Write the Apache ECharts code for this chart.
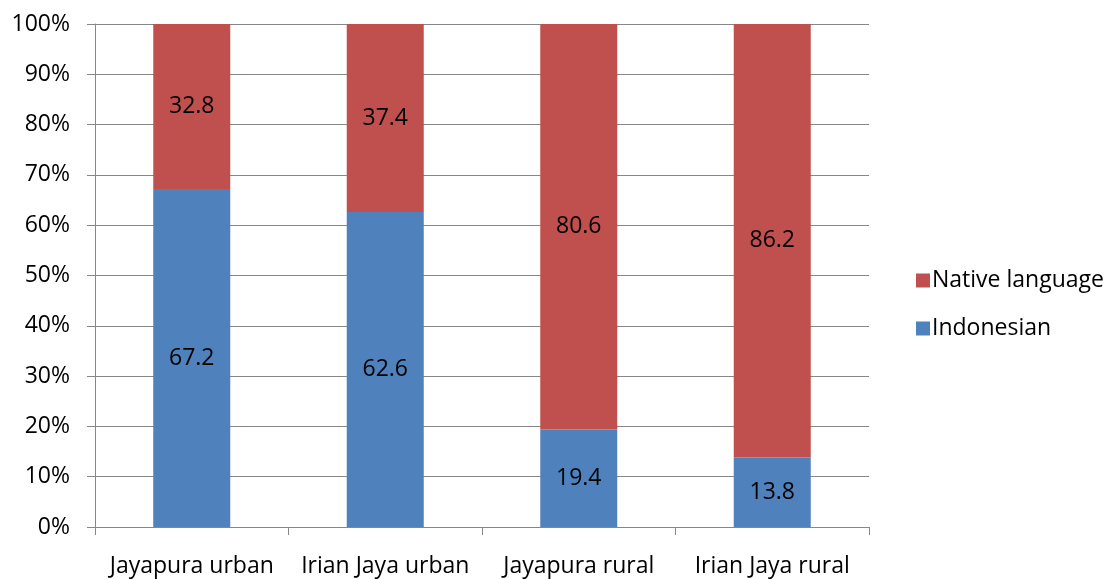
<!DOCTYPE html>
<html>
<head>
<meta charset="utf-8">
<script src="https://cdn.jsdelivr.net/npm/echarts@6/dist/echarts.min.js"></script>
<style>
html,body{margin:0;padding:0;background:#fff;}
#chart{width:1108px;height:579px;}
</style>
</head>
<body>
<div id="chart"></div>
<script>
const categories = ['Jayapura urban', 'Irian Jaya urban', 'Jayapura rural', 'Irian Jaya rural'];
const indonesian = [67.2, 62.6, 19.4, 13.8];
const nativeLanguage = [32.8, 37.4, 80.6, 86.2];
const yTicks = [0, 10, 20, 30, 40, 50, 60, 70, 80, 90, 100];

const FONT = '"Open Sans", Lato, sans-serif';
const FS = 23;
const chart = echarts.init(document.getElementById('chart'));
chart.setOption({
  animation: false,
  backgroundColor: '#fff',
  textStyle: { fontFamily: FONT },
  grid: { left: 95, right: 239, top: 24, bottom: 52, containLabel: false, outerBoundsMode: 'none' },
  legend: {
    orient: 'vertical',
    left: 911,
    top: 264,
    itemWidth: 14,
    itemHeight: 14,
    itemGap: 25,
    icon: 'rect',
    data: ['Native language', 'Indonesian'],
    textStyle: { fontFamily: FONT, fontSize: FS, color: '#000', padding: [0, 0, 0, -3] }
  },
  xAxis: {
    type: 'category',
    data: categories,
    axisLine: { show: true, lineStyle: { color: '#878787', width: 1 } },
    axisTick: { show: true, length: 8, alignWithLabel: false, lineStyle: { color: '#878787' } },
    axisLabel: { fontFamily: FONT, fontSize: FS, color: '#000', margin: 28, interval: 0 },
    splitLine: { show: false }
  },
  yAxis: {
    type: 'value',
    min: yTicks[0],
    max: yTicks[yTicks.length - 1],
    interval: 10,
    axisLine: { show: true, lineStyle: { color: '#878787', width: 1 } },
    axisTick: { show: true, length: 8, lineStyle: { color: '#878787' } },
    axisLabel: { fontFamily: FONT, fontSize: FS, color: '#000', margin: 25, formatter: '{value}%' },
    splitLine: { show: true, lineStyle: { color: '#878787', width: 1 } }
  },
  series: [
    {
      name: 'Indonesian',
      type: 'bar',
      stack: 'total',
      barWidth: 77,
      data: indonesian,
      itemStyle: { color: '#4F81BD' },
      label: { show: true, position: 'inside', color: '#000', fontFamily: FONT, fontSize: FS, formatter: p => p.value.toFixed(1) }
    },
    {
      name: 'Native language',
      type: 'bar',
      stack: 'total',
      barWidth: 77,
      data: nativeLanguage,
      itemStyle: { color: '#C0504D' },
      label: { show: true, position: 'inside', color: '#000', fontFamily: FONT, fontSize: FS, formatter: p => p.value.toFixed(1) }
    }
  ]
});
</script>
</body>
</html>
